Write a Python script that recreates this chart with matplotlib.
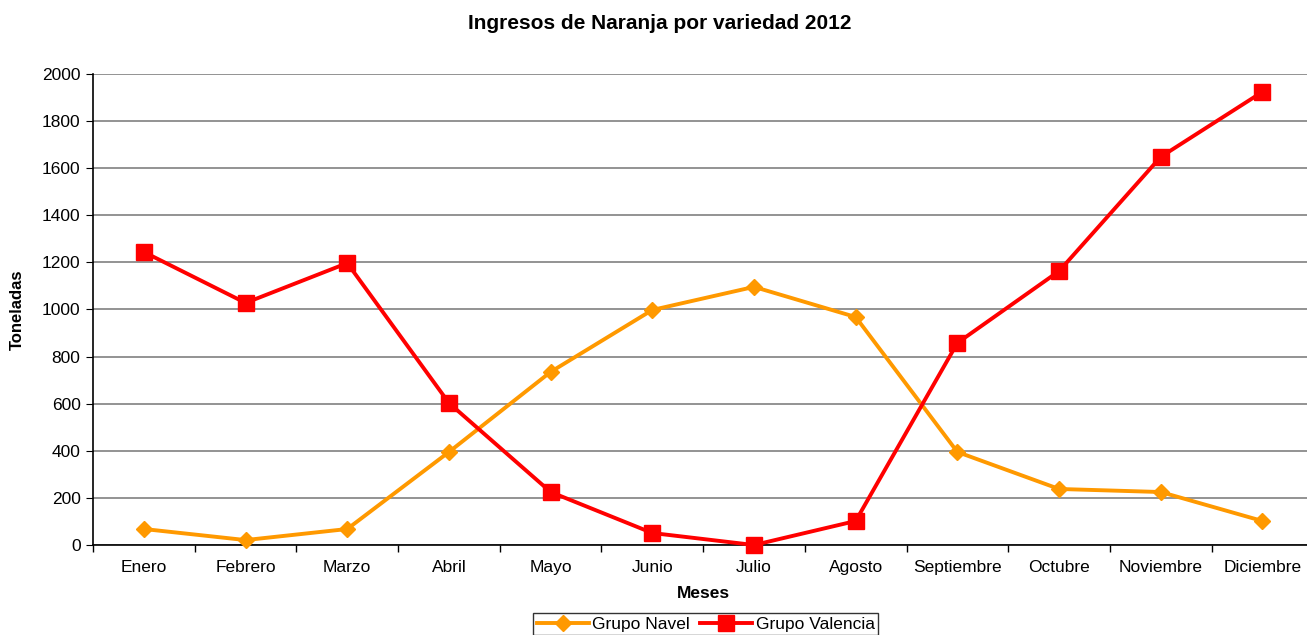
import numpy as np
import matplotlib.pyplot as plt
import matplotlib as mpl

mpl.rcParams.update({'font.family': ['Liberation Sans', 'DejaVu Sans'], 'font.size': 12.5})

meses = ["Enero", "Febrero", "Marzo", "Abril", "Mayo", "Junio", "Julio",
         "Agosto", "Septiembre", "Octubre", "Noviembre", "Diciembre"]
navel = [68, 21, 68, 395, 735, 998, 1096, 968, 395, 238, 225, 102]
valencia = [1244, 1028, 1197, 603, 225, 51, 0, 102, 858, 1163, 1648, 1924]

fig = plt.figure(figsize=(13.07, 6.35), dpi=100)
ax = fig.add_axes([0.0712, 0.1417, 0.9336, 0.7418])

x = np.arange(len(meses))
ax.plot(x, navel, color='#FF9900', lw=2.8, marker='D', markersize=8.5,
        label='Grupo Navel', clip_on=False, zorder=3)
ax.plot(x, valencia, color='#FF0000', lw=2.8, marker='s', markersize=11,
        label='Grupo Valencia', clip_on=False, zorder=4)

ax.set_xlim(-0.5, 11.5)
ax.set_ylim(0, 2000)
ax.set_yticks(np.arange(0, 2001, 200))
ax.set_xticks(x)
ax.set_xticklabels(meses)
ax.set_xticks(np.arange(-0.5, 12, 1), minor=True)
ax.tick_params(axis='x', which='major', length=0, pad=11, labelsize=12.5)
ax.tick_params(axis='x', which='minor', length=5, direction='out', width=1)
ax.tick_params(axis='y', length=5, direction='out', labelsize=12.5, pad=4)

ax.yaxis.grid(True, color='#808080', lw=1.2)
ax.set_axisbelow(True)
for s in ['top', 'right']:
    ax.spines[s].set_visible(False)
for s in ['left', 'bottom']:
    ax.spines[s].set_color('black')
    ax.spines[s].set_linewidth(1.2)

ax.set_ylabel('Toneladas', fontweight='bold', fontsize=12, labelpad=12)
ax.set_xlabel('Meses', fontweight='bold', fontsize=12.5, labelpad=8)
fig.suptitle('Ingresos de Naranja por variedad 2012', fontweight='bold',
             fontsize=15, y=0.978, x=0.505)

leg = fig.legend(loc='upper center', bbox_to_anchor=(0.540, 1 - 613 / 635), ncol=2,
                 frameon=True, fancybox=False, edgecolor='black', fontsize=12.5,
                 handlelength=3.0, handletextpad=0.2, columnspacing=0.6,
                 borderpad=0.2, borderaxespad=0)
leg.get_frame().set_linewidth(1.0)

fig.savefig('out.png', dpi=100)
